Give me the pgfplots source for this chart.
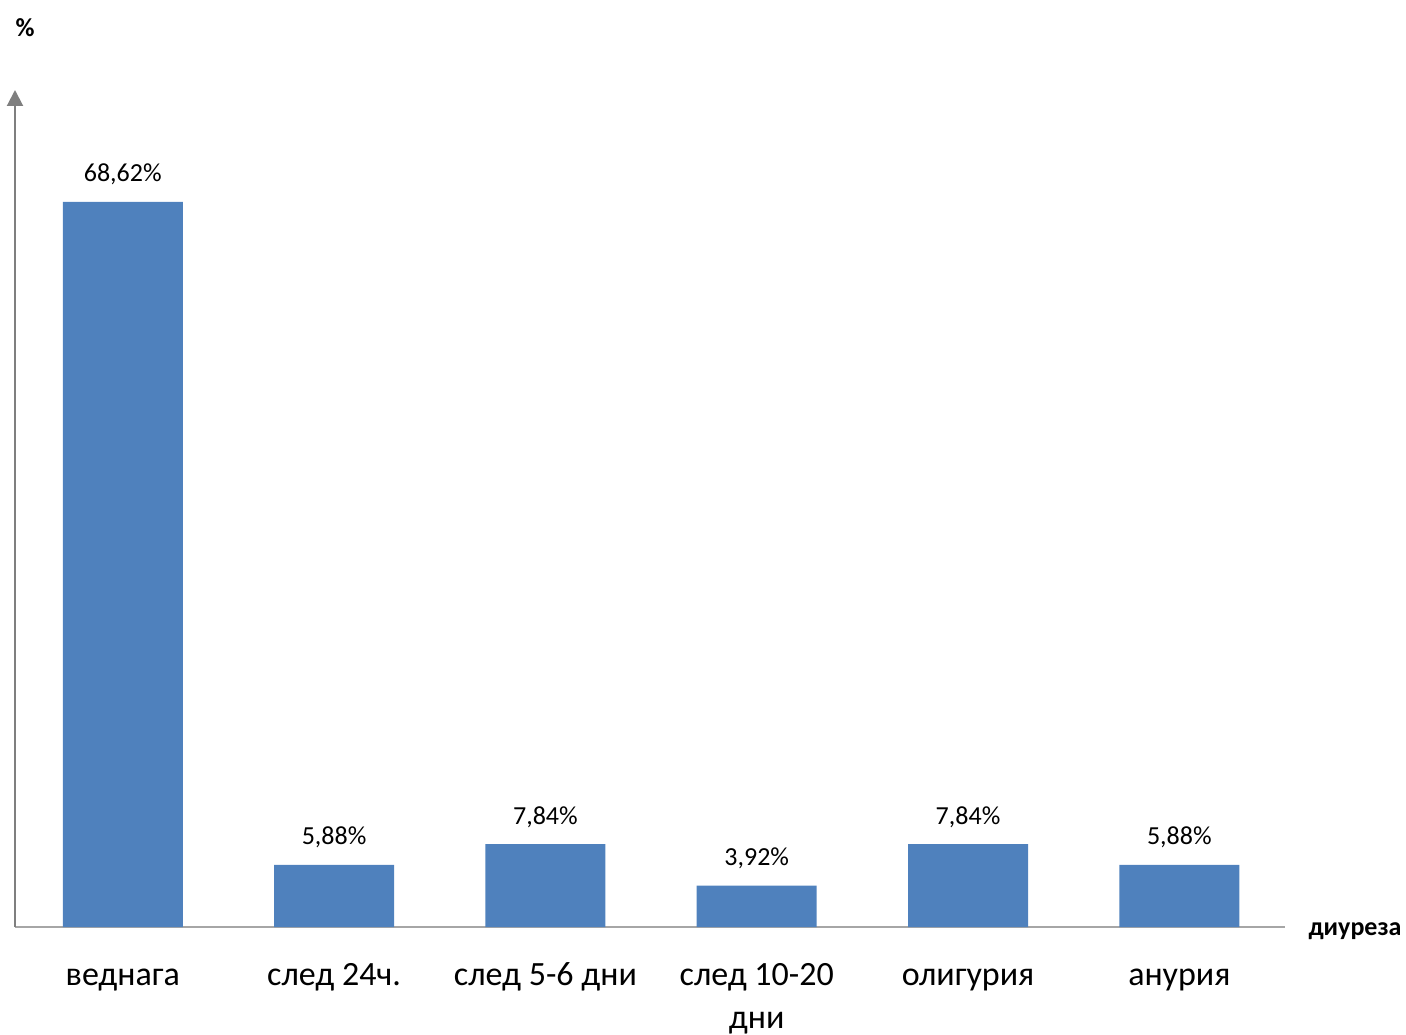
\documentclass[border=0pt]{standalone}
\usepackage{pgfplots}
\pgfplotsset{compat=1.18}
\usepackage{fontspec}
\setmainfont{Carlito}
\usetikzlibrary{arrows.meta}
\definecolor{barblue}{HTML}{4F81BD}
\definecolor{yaxgray}{HTML}{7F7F7F}
\definecolor{xaxgray}{HTML}{A6A6A6}
\begin{document}
\begin{tikzpicture}
\useasboundingbox (-7.5pt,-53.5pt) rectangle (695.5pt,463.5pt);
\begin{axis}[
  at={(0,0)}, anchor=south west,
  scale only axis,
  width=635pt, height=418.5pt,
  xmin=-0.51, xmax=5.5,
  ymin=0, ymax=79.2,
  axis x line=bottom, axis y line=left,
  x axis line style={-, draw=xaxgray, line width=1pt},
  y axis line style={-{Triangle[length=8pt,width=8pt]}, draw=yaxgray, line width=1pt},
  ytick=\empty,
  xtick={0,1,2,3,4,5},
  xticklabels={веднага, след 24ч., след 5-6 дни, {след 10-20\\дни}, олигурия, анурия},
  major tick length=0pt,
  typeset ticklabels with strut,
  xticklabel style={font=\fontsize{17}{21.5}\selectfont, align=center, anchor=north, inner sep=0pt, yshift=-14pt},
  ybar, bar width=60pt,
  /pgf/number format/assume math mode=true,
  nodes near coords={\pgfmathprintnumber[fixed,fixed zerofill,precision=2,use comma,assume math mode=true]{\pgfplotspointmeta}\%},
  every node near coord/.append style={font=\fontsize{13}{16}\selectfont, anchor=base, inner sep=0pt, yshift=10pt, text=black},
  clip=false,
]
\addplot[fill=barblue, draw=none] coordinates {(0,68.62) (1,5.88) (2,7.84) (3,3.92) (4,7.84) (5,5.88)};
\end{axis}
\node[font=\bfseries\fontsize{13}{16}\selectfont, inner sep=0pt] at (5pt,449.5pt) {\%};
\node[font=\bfseries\fontsize{13}{16}\selectfont, inner sep=0pt] at (670pt,-2pt) {диуреза};
\end{tikzpicture}
\end{document}
